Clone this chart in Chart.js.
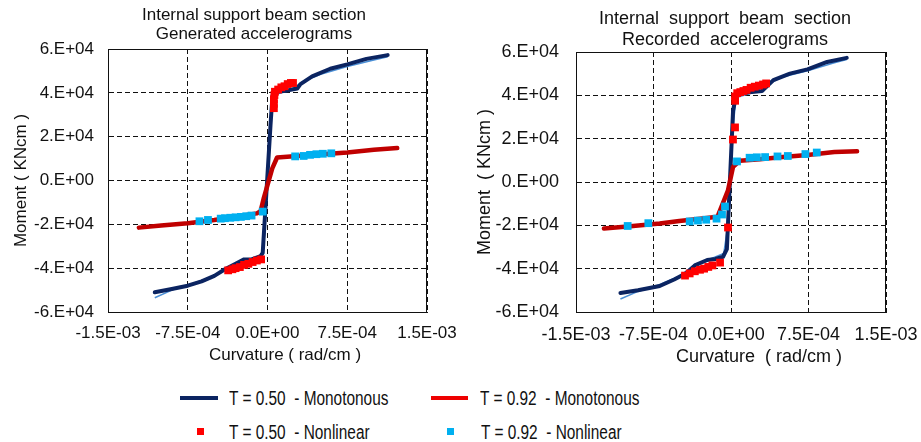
<!DOCTYPE html>
<html>
<head>
<meta charset="utf-8">
<script src="https://cdn.jsdelivr.net/npm/chart.js@4.4.1/dist/chart.umd.min.js"></script>
<style>
  body { margin: 0; width: 921px; height: 442px; overflow: hidden; background: #fff; position: relative;
         font-family: "Liberation Sans", Arial, sans-serif; color: #111; }
  canvas { position: absolute; top: 0; }
  .txt { position: absolute; text-align: center; white-space: pre; }
  .leg { position: absolute; white-space: pre; font-size: 19.5px; line-height: 20px;
         transform: scaleX(0.79); transform-origin: left center; }
  .mk { position: absolute; }
</style>
</head>
<body>
<canvas id="genChart" width="460" height="375" style="left:0"></canvas>
<canvas id="recChart" width="461" height="375" style="left:460px"></canvas>

<div class="txt" style="left:0;top:5px;width:508px;font-size:17px;line-height:19px">Internal support beam section
Generated accelerograms</div>
<div class="txt" style="left:470px;top:8px;width:510px;font-size:18px;line-height:21px">Internal  support  beam  section
Recorded  accelerograms</div>
<div class="txt" style="left:185px;top:345px;width:200px;font-size:17px;line-height:19px">Curvature ( rad/cm )</div>
<div class="txt" style="left:659px;top:346px;width:200px;font-size:18px;line-height:21px">Curvature  ( rad/cm )</div>

<!-- legend -->
<div class="mk" style="left:180px;top:396px;width:38px;height:4px;background:#0b2461"></div>
<div class="leg" style="left:229px;top:388px">T = 0.50  - Monotonous</div>
<div class="mk" style="left:431px;top:396px;width:37px;height:4px;background:#ee0000"></div>
<div class="leg" style="left:480px;top:388px">T = 0.92  - Monotonous</div>
<div class="mk" style="left:197px;top:428px;width:7px;height:7px;background:#ff0000"></div>
<div class="leg" style="left:229px;top:422px">T = 0.50  - Nonlinear</div>
<div class="mk" style="left:447px;top:428px;width:7px;height:7px;background:#00b0f0"></div>
<div class="leg" style="left:481px;top:422px">T = 0.92  - Nonlinear</div>

<script>
// axis ticks
var curvTicks  = [-1.5e-3, -7.5e-4, 0, 7.5e-4, 1.5e-3];
var momTicks   = [-6e4, -4e4, -2e4, 0, 2e4, 4e4, 6e4];

// ---- Generated accelerograms ----
var genMono050Curv = [-1.06e-3, -9.0e-4, -7.5e-4, -6.2e-4, -5.0e-4, -4.0e-4, -3.0e-4, -2.2e-4, -1.5e-4, -6.5e-5, -4.5e-5, 2.8e-5, 4.7e-5, 7.5e-5, 1.8e-4, 2.8e-4, 3.1e-4, 4.2e-4, 5.9e-4, 7.5e-4, 9.3e-4, 1.13e-3];
var genMono050Mom  = [-5.1e4, -4.95e4, -4.8e4, -4.6e4, -4.35e4, -4.05e4, -3.8e4, -3.6e4, -3.6e4, -3.45e4, -3.3e4, 2.5e4, 3.88e4, 4.05e4, 4.1e4, 4.2e4, 4.4e4, 4.75e4, 5.1e4, 5.3e4, 5.55e4, 5.72e4];
var genEnv050Curv  = [-1.06e-3, -9.0e-4, -7.0e-4, -5.0e-4, -3.5e-4, -2.0e-4, -6.0e-5, -3.0e-5, 3.0e-5, 6.0e-5, 2.0e-4, 3.5e-4, 5.0e-4, 7.5e-4, 1.0e-3, 1.13e-3];
var genEnv050Mom   = [-5.35e4, -5.0e4, -4.7e4, -4.35e4, -3.95e4, -3.65e4, -3.5e4, -2.6e4, 2.8e4, 3.9e4, 4.1e4, 4.55e4, 4.85e4, 5.2e4, 5.5e4, 5.65e4];
var genMono092Curv = [-1.21e-3, -1.0e-3, -7.5e-4, -5.0e-4, -3.0e-4, -1.0e-4, -6.5e-5, -3.5e-5, 4.5e-5, 9.0e-5, 2.8e-4, 7.5e-4, 1.0e-3, 1.22e-3];
var genMono092Mom  = [-2.15e4, -2.05e4, -1.95e4, -1.8e4, -1.65e4, -1.5e4, -1.4e4, -8.0e3, 5.5e3, 1.05e4, 1.12e4, 1.28e4, 1.4e4, 1.48e4];
var genNl050Curv   = [6.0e-5, 6.0e-5, 6.0e-5, 6.5e-5, 7.0e-5, 1.0e-4, 1.3e-4, 1.6e-4, 1.9e-4, 2.2e-4, 2.4e-4, -3.7e-4, -3.3e-4, -3.0e-4, -2.6e-4, -2.2e-4, -1.8e-4, -1.4e-4, -1.0e-4, -6.0e-5];
var genNl050Mom    = [3.3e4, 3.5e4, 3.7e4, 3.9e4, 4.05e4, 4.15e4, 4.25e4, 4.3e4, 4.4e4, 4.45e4, 4.45e4, -4.1e4, -4.05e4, -4.0e4, -3.95e4, -3.85e4, -3.8e4, -3.72e4, -3.65e4, -3.6e4];
var genNl092Curv   = [-6.4e-4, -5.6e-4, -4.4e-4, -4.0e-4, -3.5e-4, -3.0e-4, -2.5e-4, -2.0e-4, -1.5e-4, -4.5e-5, 2.6e-4, 3.4e-4, 4.0e-4, 4.6e-4, 5.2e-4, 6.0e-4];
var genNl092Mom    = [-1.86e4, -1.8e4, -1.74e4, -1.72e4, -1.7e4, -1.68e4, -1.66e4, -1.63e4, -1.6e4, -1.42e4, 1.1e4, 1.12e4, 1.17e4, 1.2e4, 1.22e4, 1.24e4];

// ---- Recorded accelerograms ----
var recMono050Curv = [-1.07e-3, -9.0e-4, -6.9e-4, -5.5e-4, -4.3e-4, -3.5e-4, -2.3e-4, -1.5e-4, -7.7e-5, -4.0e-5, 2.0e-5, 5.0e-5, 9.0e-5, 2.0e-4, 3.0e-4, 4.1e-4, 5.7e-4, 7.4e-4, 9.3e-4, 1.12e-3];
var recMono050Mom  = [-5.12e4, -5.0e4, -4.8e4, -4.5e4, -4.2e4, -3.85e4, -3.6e4, -3.55e4, -3.45e4, -3.1e4, 3.3e4, 4.0e4, 4.1e4, 4.15e4, 4.2e4, 4.7e4, 5.0e4, 5.2e4, 5.54e4, 5.73e4];
var recEnv050Curv  = [-1.07e-3, -9.0e-4, -7.0e-4, -5.0e-4, -3.5e-4, -2.0e-4, -7.0e-5, -3.0e-5, 2.5e-5, 5.0e-5, 2.0e-4, 3.5e-4, 5.0e-4, 7.5e-4, 1.0e-3, 1.12e-3];
var recEnv050Mom   = [-5.4e4, -5.05e4, -4.75e4, -4.35e4, -3.8e4, -3.55e4, -3.3e4, -2.0e4, 2.8e4, 3.9e4, 4.1e4, 4.5e4, 4.85e4, 5.15e4, 5.5e4, 5.65e4];
var recMono092Curv = [-1.23e-3, -1.0e-3, -6.9e-4, -5.0e-4, -3.0e-4, -1.3e-4, -3.0e-5, 2.0e-5, 8.5e-5, 2.8e-4, 5.0e-4, 7.4e-4, 1.0e-3, 1.22e-3];
var recMono092Mom  = [-2.15e4, -2.05e4, -1.92e4, -1.8e4, -1.7e4, -1.6e4, -4.0e3, 7.0e3, 9.8e3, 1.05e4, 1.15e4, 1.25e4, 1.38e4, 1.42e4];
var recNl050Curv   = [4.0e-5, 4.0e-5, 6.0e-5, 9.0e-5, 1.2e-4, 1.5e-4, 1.9e-4, 2.3e-4, 2.7e-4, 3.1e-4, 3.4e-4, 3.9e-5, 1.9e-5, -2.9e-5, -1.06e-4, -4.45e-4, -4.0e-4, -3.5e-4, -3.0e-4, -2.6e-4, -2.2e-4, -1.8e-4];
var recNl050Mom    = [3.75e4, 3.95e4, 4.1e4, 4.15e4, 4.2e4, 4.25e4, 4.35e4, 4.4e4, 4.45e4, 4.5e4, 4.55e4, 2.52e4, 1.96e4, -2.1e4, -3.72e4, -4.32e4, -4.22e4, -4.12e4, -4.05e4, -4.0e4, -3.92e4, -3.85e4];
var recNl092Curv   = [-1.0e-3, -8.0e-4, -4.0e-4, -3.2e-4, -2.4e-4, -1.4e-4, -8.7e-5, -5.8e-5, 5.8e-5, 1.8e-4, 2.5e-4, 3.3e-4, 4.5e-4, 5.5e-4, 7.2e-4, 8.3e-4];
var recNl092Mom    = [-2.03e4, -1.9e4, -1.82e4, -1.78e4, -1.74e4, -1.69e4, -1.5e4, -1.13e4, 9.5e3, 1.12e4, 1.14e4, 1.15e4, 1.18e4, 1.2e4, 1.29e4, 1.36e4];

function pts(xs, ys) {
    return xs.map(function(x, i) { return {x: x, y: ys[i]}; });
}

// excel style "7.5E-04" / "6.E+04"
function sci(v, d) {
    if (Math.abs(v) < 1e-12) v = 0;
    var e = v === 0 ? 0 : Math.floor(Math.log10(Math.abs(v)) + 1e-9);
    var m = v / Math.pow(10, e);
    var ms = d === 0 ? Math.round(m) + '.' : m.toFixed(d);
    return ms + 'E' + (e < 0 ? '-' : '+') + String(Math.abs(e)).padStart(2, '0');
}

// solid frame round the plot area
var framePlugin = {
    id: 'frame',
    beforeDatasetsDraw: function(chart) {
        var a = chart.chartArea, ctx = chart.ctx;
        ctx.save();
        ctx.strokeStyle = '#111';
        ctx.lineWidth = 1;
        ctx.strokeRect(a.left + 0.5, a.top + 0.5, a.right - a.left - 1, a.bottom - a.top);
        ctx.restore();
    }
};

function buildChart(id, s) {
    var font = {family: '"Liberation Sans", Arial, sans-serif', size: s.fontSize};
    return new Chart(document.getElementById(id), {
        type: 'scatter',
        plugins: [framePlugin],
        data: {
            datasets: [
                {label: 'T = 0.92 - Nonlinear', data: pts(s.nl092x, s.nl092y), pointStyle: 'rect',
                 pointRadius: 5.5, backgroundColor: '#00b0f0', borderWidth: 0},
                {label: 'T = 0.50 - Nonlinear', data: pts(s.nl050x, s.nl050y), pointStyle: 'rect',
                 pointRadius: 5.5, backgroundColor: '#ff0000', borderWidth: 0},
                {label: 'T = 0.92 - Monotonous', data: pts(s.m092x, s.m092y), showLine: true, pointRadius: 0,
                 borderColor: '#c00000', borderWidth: 4.5, borderJoinStyle: 'round', borderCapStyle: 'round'},
                {label: 'T = 0.50 - Monotonous', data: pts(s.m050x, s.m050y), showLine: true, pointRadius: 0,
                 borderColor: '#0b2461', borderWidth: 4, borderJoinStyle: 'round', borderCapStyle: 'round'},
                {label: '', data: pts(s.e050x, s.e050y), showLine: true, pointRadius: 0,
                 borderColor: '#4a8fd6', borderWidth: 1.5}
            ]
        },
        options: {
            responsive: false,
            animation: false,
            events: [],
            layout: {padding: {top: s.top, right: s.right, left: 0, bottom: 0}},
            plugins: {legend: {display: false}, tooltip: {enabled: false}},
            scales: {
                x: {
                    type: 'linear', min: -1.5e-3, max: 1.5e-3,
                    afterBuildTicks: function(sc) { sc.ticks = curvTicks.map(function(v) { return {value: v}; }); },
                    afterFit: function(sc) {
                        sc.height = 375 - 312;
                        sc.paddingLeft = 0;
                        sc.paddingRight = 0;
                    },
                    ticks: {font: font, color: '#111', padding: s.xPad, maxRotation: 0,
                            callback: function(v) { return sci(v, 1); }},
                    grid: {color: '#111', lineWidth: 1, drawTicks: false},
                    border: {display: true, color: '#111', width: 1, dash: [5, 3]}
                },
                y: {
                    type: 'linear', min: -6e4, max: 6e4,
                    afterBuildTicks: function(sc) { sc.ticks = momTicks.map(function(v) { return {value: v}; }); },
                    afterFit: function(sc) {
                        sc.width = s.left;
                        sc.paddingTop = 0;
                        sc.paddingBottom = 0;
                    },
                    ticks: {font: font, color: '#111', padding: s.yPad,
                            callback: function(v) { return sci(v, 0); }},
                    grid: {color: '#111', lineWidth: 1, drawTicks: false},
                    border: {display: true, color: '#111', width: 1, dash: [5, 3]},
                    title: {display: true, text: s.yTitle, font: font, color: '#111',
                            padding: {top: s.yTitlePad, bottom: 0}}
                }
            }
        }
    });
}

buildChart('genChart', {
    fontSize: 17, top: 49, right: 33, left: 108, xPad: 11, yPad: 14, yTitlePad: 11,
    yTitle: 'Moment ( KNcm )',
    m050x: genMono050Curv, m050y: genMono050Mom, e050x: genEnv050Curv, e050y: genEnv050Mom,
    m092x: genMono092Curv, m092y: genMono092Mom, nl050x: genNl050Curv, nl050y: genNl050Mom,
    nl092x: genNl092Curv, nl092y: genNl092Mom
});

buildChart('recChart', {
    fontSize: 18, top: 52, right: 35, left: 116, xPad: 12, yPad: 17, yTitlePad: 14,
    yTitle: 'Moment  ( KNcm )',
    m050x: recMono050Curv, m050y: recMono050Mom, e050x: recEnv050Curv, e050y: recEnv050Mom,
    m092x: recMono092Curv, m092y: recMono092Mom, nl050x: recNl050Curv, nl050y: recNl050Mom,
    nl092x: recNl092Curv, nl092y: recNl092Mom
});
</script>
</body>
</html>
